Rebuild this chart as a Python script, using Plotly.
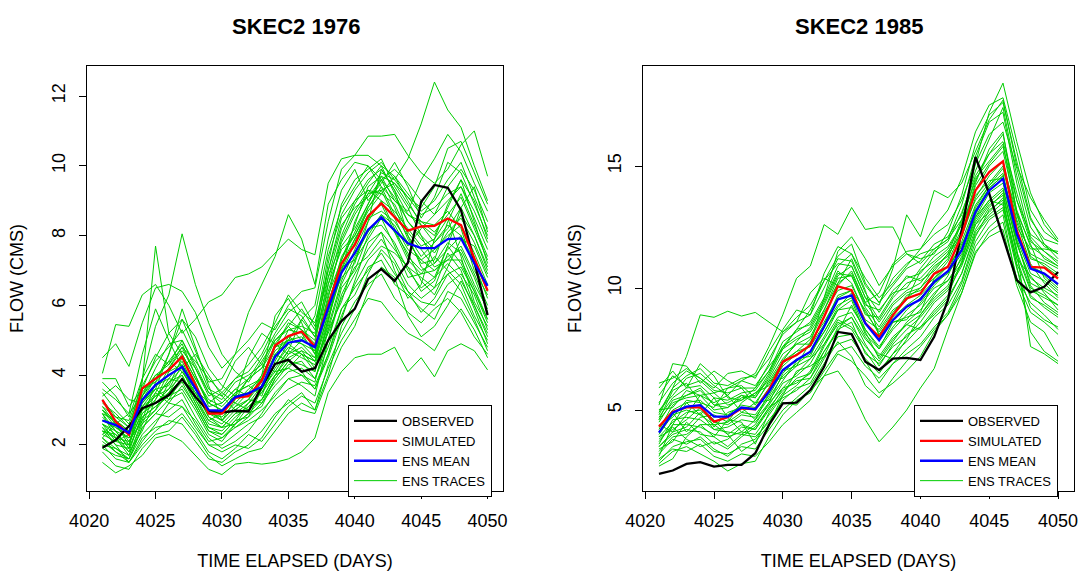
import plotly.graph_objects as go

days = list(range(4021, 4051))

# ---------------- SKEC2 1976 ----------------
obs_1976 = [1.92, 2.14, 2.54, 3.05, 3.20, 3.43, 3.89, 3.38, 2.96, 2.93, 2.98, 2.96, 3.67, 4.32, 4.44,
            4.10, 4.20, 5.00, 5.55, 5.90, 6.75, 7.04, 6.70, 7.22, 8.97, 9.45, 9.37, 8.73, 7.25, 5.72]
sim_1976 = [3.29, 2.67, 2.29, 3.62, 3.90, 4.15, 4.53, 3.70, 2.90, 2.90, 3.35, 3.40, 3.85, 4.85, 5.12,
            5.25, 4.82, 6.00, 7.20, 7.73, 8.55, 8.92, 8.54, 8.14, 8.26, 8.28, 8.49, 8.30, 7.35, 6.42]
mean_1976 = [2.70, 2.57, 2.35, 3.29, 3.72, 4.00, 4.24, 3.62, 3.00, 2.98, 3.37, 3.48, 3.67, 4.53, 4.93,
             5.00, 4.80, 5.92, 6.94, 7.50, 8.16, 8.52, 8.16, 7.78, 7.64, 7.64, 7.90, 7.92, 7.20, 6.56]
ens_1976 = [
    [2.4, 2.0, 1.9, 3.8, 7.7, 5.2, 4.6, 3.9, 3.2, 3.0, 3.4, 3.9, 4.2, 4.8, 5.5, 5.3, 4.9, 6.8, 8.2, 9.0, 9.6, 9.9, 9.3, 8.6, 8.3, 8.0, 8.8, 9.6, 8.4, 7.2],
    [3.0, 2.6, 2.4, 3.9, 5.4, 6.3, 8.05, 6.6, 5.5, 4.6, 4.1, 3.8, 4.4, 5.0, 5.4, 5.9, 5.3, 7.4, 8.6, 9.3, 9.8, 10.1, 9.6, 9.1, 8.6, 8.8, 9.2, 9.4, 8.5, 7.6],
    [4.5, 4.9, 4.25, 5.5, 6.5, 6.6, 6.4, 5.8, 4.8, 4.2, 4.6, 5.0, 5.5, 5.3, 6.0, 6.4, 6.5, 8.4, 9.9, 10.3, 10.3, 10.0, 9.2, 8.4, 8.0, 7.2, 7.6, 8.0, 7.3, 6.4],
    [4.05, 5.45, 5.4, 6.3, 6.6, 6.0, 5.2, 5.6, 6.1, 6.3, 6.8, 6.9, 7.1, 7.5, 7.9, 7.6, 7.45, 9.5, 10.2, 10.3, 10.85, 10.85, 10.9, 10.3, 9.8, 9.5, 9.9, 10.6, 11.0, 9.7],
    [3.9, 3.9, 3.1, 3.6, 4.5, 5.2, 5.6, 4.7, 3.8, 3.9, 4.6, 5.8, 6.6, 7.4, 8.6, 7.9, 6.6, 8.9, 9.6, 10.1, 10.0, 9.4, 9.0, 8.7, 9.6, 10.2, 10.9, 10.4, 9.5, 8.7],
    [2.2, 1.9, 1.7, 2.6, 3.0, 3.5, 3.9, 3.2, 2.5, 2.4, 2.8, 3.1, 3.3, 4.0, 4.6, 4.8, 4.4, 5.6, 7.0, 8.4, 9.2, 9.8, 9.6, 10.2, 11.2, 12.4, 11.6, 11.1, 10.0, 9.0],
    [1.5, 1.2, 1.4, 1.7, 2.2, 2.3, 2.1, 1.7, 1.3, 1.15, 1.45, 1.5, 1.45, 1.5, 1.6, 1.8, 2.2, 3.5, 4.1, 4.5, 4.6, 4.6, 4.8, 4.1, 4.5, 3.95, 4.7, 4.9, 4.7, 4.15],
    [2.0, 1.6, 1.5, 2.2, 2.5, 2.6, 2.9, 2.4, 1.8, 1.6, 1.9, 2.3, 2.1, 2.6, 3.1, 3.4, 3.2, 4.2, 5.0, 5.6, 6.2, 6.1, 5.6, 5.2, 5.0, 4.7, 5.4, 5.9, 5.3, 4.5],
    [2.6, 2.3, 2.0, 3.0, 3.4, 3.8, 4.2, 3.3, 2.6, 2.5, 2.9, 3.2, 3.5, 4.2, 4.7, 4.5, 4.3, 5.4, 6.7, 7.6, 8.4, 9.0, 8.2, 7.4, 7.0, 7.2, 7.8, 7.5, 6.6, 5.9],
    [3.2, 2.9, 2.5, 3.4, 3.9, 4.4, 4.9, 4.0, 3.1, 3.2, 3.6, 3.4, 3.9, 4.7, 5.0, 5.6, 5.1, 6.4, 7.7, 8.2, 8.9, 9.6, 9.1, 8.4, 7.9, 7.5, 8.1, 8.5, 7.8, 6.9],
    [2.3, 2.1, 2.3, 3.1, 3.6, 3.7, 4.5, 3.8, 2.9, 2.7, 3.1, 3.5, 3.6, 4.1, 4.2, 4.6, 4.4, 5.2, 6.2, 6.9, 7.6, 8.1, 7.6, 7.1, 6.8, 6.5, 6.9, 7.1, 6.4, 5.6],
    [2.8, 2.4, 1.9, 2.8, 3.1, 3.4, 3.6, 3.0, 2.3, 2.1, 2.6, 2.9, 3.1, 3.9, 4.4, 4.3, 4.1, 5.6, 6.9, 7.8, 8.8, 9.4, 8.6, 8.0, 7.4, 7.8, 8.3, 8.0, 7.2, 6.2],
    [2.5, 2.2, 1.8, 2.4, 3.3, 4.1, 4.3, 3.4, 2.7, 2.9, 3.5, 3.7, 3.4, 4.4, 5.1, 4.9, 4.5, 6.0, 7.4, 8.0, 8.7, 9.2, 8.9, 8.1, 7.6, 7.1, 7.3, 7.7, 6.9, 6.0],
    [3.5, 3.0, 2.6, 3.6, 3.8, 4.2, 4.7, 4.2, 3.5, 3.3, 3.8, 4.0, 4.3, 5.1, 5.6, 5.3, 5.0, 7.2, 8.9, 9.6, 9.9, 10.2, 9.4, 8.8, 8.0, 7.6, 7.9, 8.6, 8.0, 7.1],
    [1.9, 1.7, 1.6, 2.3, 2.7, 3.0, 3.3, 2.6, 2.0, 2.0, 2.3, 2.6, 2.8, 3.3, 3.6, 3.8, 3.7, 4.6, 5.9, 6.5, 7.0, 7.5, 6.9, 6.4, 6.1, 6.0, 6.6, 6.9, 6.3, 5.3],
    [2.7, 2.5, 2.2, 3.3, 3.9, 4.4, 4.1, 3.5, 2.8, 2.6, 3.0, 3.3, 3.8, 4.6, 5.0, 5.1, 4.7, 6.3, 7.3, 8.3, 9.4, 9.7, 9.5, 8.9, 8.4, 8.1, 8.6, 9.1, 8.2, 7.3],
    [3.1, 2.6, 2.1, 2.9, 3.3, 3.9, 3.8, 3.6, 3.2, 3.5, 3.2, 3.0, 3.6, 4.3, 4.8, 4.6, 4.4, 5.8, 7.1, 7.3, 7.9, 8.5, 7.7, 6.8, 6.9, 7.4, 7.0, 6.6, 5.7, 5.0],
    [2.1, 1.8, 1.5, 2.0, 2.4, 2.7, 2.6, 2.1, 1.6, 1.5, 1.8, 2.0, 2.4, 2.9, 3.2, 3.5, 3.0, 4.0, 5.4, 6.1, 6.6, 6.9, 6.2, 5.8, 5.5, 5.9, 6.2, 5.8, 5.1, 4.6],
    [3.3, 2.8, 2.7, 3.7, 4.4, 4.8, 5.3, 4.5, 3.6, 3.4, 3.9, 4.3, 4.8, 5.5, 6.3, 5.8, 5.5, 7.0, 8.3, 8.8, 9.1, 9.6, 9.9, 9.5, 9.0, 8.6, 9.0, 9.4, 8.7, 7.8],
    [2.9, 2.4, 2.2, 2.6, 3.5, 3.2, 3.7, 3.1, 2.4, 2.3, 2.7, 2.8, 3.2, 3.7, 4.1, 4.2, 3.9, 5.0, 6.3, 7.1, 7.4, 7.9, 7.3, 6.6, 6.2, 6.5, 7.5, 7.0, 6.0, 5.2],
    [2.4, 2.3, 1.8, 2.9, 3.2, 3.6, 4.0, 3.3, 2.7, 2.5, 2.9, 3.0, 3.3, 3.8, 4.3, 4.4, 3.9, 4.8, 5.9, 6.3, 7.1, 7.3, 6.6, 6.3, 5.9, 5.6, 6.4, 6.2, 5.5, 4.8],
    [2.6, 2.1, 2.0, 3.2, 3.7, 3.9, 4.4, 3.6, 2.9, 2.8, 3.2, 3.6, 3.9, 4.5, 5.3, 5.2, 4.6, 6.6, 8.0, 8.9, 9.5, 10.0, 9.7, 9.2, 8.7, 9.0, 9.6, 10.1, 9.1, 8.2],
    [3.0, 2.7, 2.4, 3.5, 4.0, 4.1, 4.6, 3.9, 3.3, 3.1, 3.5, 3.7, 3.9, 4.9, 5.4, 5.0, 4.8, 6.1, 7.2, 7.9, 8.5, 8.7, 8.4, 7.8, 7.3, 7.0, 7.4, 7.6, 6.8, 5.8],
    [2.2, 2.6, 2.9, 3.4, 4.2, 4.9, 5.0, 4.2, 3.4, 3.6, 4.4, 4.8, 4.3, 4.1, 4.7, 5.6, 6.0, 7.9, 9.3, 9.9, 9.0, 9.5, 10.1, 9.4, 8.5, 9.1, 10.1, 9.8, 8.9, 8.0],
    [3.6, 3.3, 2.9, 4.6, 5.9, 5.0, 4.2, 4.6, 4.0, 3.4, 3.0, 3.3, 4.0, 5.7, 6.2, 5.5, 4.6, 5.9, 6.8, 7.2, 8.4, 9.9, 9.3, 8.0, 7.1, 6.8, 7.7, 8.8, 9.4, 8.1],
    [2.9, 2.2, 1.7, 2.7, 3.8, 4.6, 5.9, 4.8, 3.7, 2.7, 2.5, 2.8, 3.6, 4.6, 4.4, 4.1, 3.6, 4.5, 5.6, 6.7, 7.8, 8.1, 7.0, 6.2, 6.6, 7.9, 8.5, 7.4, 6.1, 5.4],
    [2.0, 1.9, 1.6, 2.5, 2.9, 3.3, 3.5, 2.8, 2.2, 1.9, 2.1, 2.4, 2.9, 3.5, 3.9, 3.7, 3.4, 5.0, 6.5, 7.0, 8.0, 8.6, 8.1, 7.5, 6.7, 6.3, 7.1, 7.9, 7.7, 6.8],
    [3.4, 3.7, 3.3, 3.2, 3.6, 4.6, 5.6, 5.1, 4.2, 3.7, 3.4, 4.5, 5.2, 4.9, 4.6, 5.0, 5.7, 7.6, 8.8, 9.4, 10.0, 9.6, 8.8, 7.9, 7.2, 7.3, 8.4, 9.2, 8.3, 7.4],
    [2.5, 2.0, 1.5, 2.1, 2.6, 3.2, 3.1, 2.5, 2.0, 1.8, 2.0, 1.9, 2.2, 2.8, 3.3, 3.0, 2.9, 3.9, 4.8, 5.4, 6.4, 7.1, 6.8, 5.7, 5.1, 5.4, 6.0, 6.7, 6.0, 5.1],
    [3.0, 2.5, 2.3, 3.3, 3.6, 3.3, 3.9, 3.5, 3.0, 2.7, 3.3, 3.9, 4.5, 5.2, 5.8, 6.1, 5.4, 6.8, 7.8, 8.6, 9.2, 9.3, 8.5, 7.7, 8.2, 8.6, 9.4, 9.9, 9.3, 8.4],
    [2.3, 2.7, 2.4, 3.0, 3.2, 3.5, 4.1, 3.6, 2.8, 2.5, 2.6, 3.1, 3.5, 4.0, 4.5, 4.7, 4.2, 5.3, 6.1, 7.3, 8.2, 8.3, 7.8, 7.0, 6.5, 6.8, 7.2, 6.8, 5.9, 4.9],
    [1.8, 1.4, 1.3, 1.9, 2.3, 2.4, 2.8, 2.3, 1.7, 1.4, 1.6, 1.8, 1.9, 2.4, 2.9, 3.2, 3.0, 4.3, 5.2, 5.9, 6.9, 7.6, 7.2, 6.4, 5.8, 6.2, 6.9, 6.4, 5.6, 4.7],
    [2.7, 2.6, 2.0, 3.4, 4.0, 4.3, 5.0, 4.3, 3.5, 3.2, 3.6, 3.9, 4.2, 5.0, 5.3, 5.4, 5.2, 7.0, 8.5, 9.0, 9.3, 9.0, 8.7, 8.2, 7.7, 7.9, 8.9, 9.6, 9.0, 7.9],
    [3.1, 2.8, 2.5, 3.1, 3.4, 3.6, 4.3, 3.7, 3.0, 2.7, 3.1, 3.3, 3.2, 3.9, 4.4, 4.7, 4.5, 5.7, 7.0, 7.9, 8.6, 8.9, 8.1, 7.3, 6.9, 7.0, 7.3, 7.3, 6.5, 5.6],
    [2.4, 2.2, 2.1, 2.7, 3.0, 3.8, 4.0, 3.2, 2.5, 2.3, 2.7, 3.2, 3.7, 4.3, 4.9, 4.6, 4.1, 5.5, 7.3, 8.1, 8.9, 9.7, 9.0, 8.6, 8.4, 8.3, 8.7, 8.2, 7.0, 6.3],
    [3.8, 3.4, 2.8, 3.9, 4.6, 4.3, 4.8, 4.4, 3.9, 3.5, 3.9, 4.1, 4.6, 5.4, 5.9, 5.7, 5.1, 6.6, 7.6, 8.0, 8.8, 9.3, 9.5, 9.1, 8.8, 9.4, 10.5, 10.7, 9.8, 8.9],
    [2.2, 1.8, 1.6, 2.5, 2.9, 2.8, 3.1, 2.7, 2.1, 2.2, 2.5, 2.7, 3.0, 3.4, 3.9, 4.0, 3.6, 4.6, 5.7, 6.6, 7.3, 7.7, 7.5, 7.1, 6.4, 6.7, 7.7, 7.2, 6.4, 5.5],
    [2.9, 2.7, 2.3, 3.0, 3.5, 4.2, 4.8, 4.0, 3.2, 3.0, 3.4, 3.5, 4.0, 4.8, 5.0, 4.9, 4.7, 6.2, 7.9, 8.7, 9.3, 9.2, 9.7, 9.0, 8.3, 7.8, 8.2, 8.8, 8.0, 7.0],
    [2.6, 2.4, 1.9, 2.8, 3.1, 3.4, 3.8, 3.1, 2.4, 2.2, 2.6, 2.9, 3.3, 4.0, 4.2, 4.0, 3.8, 5.3, 6.6, 7.4, 8.1, 8.6, 8.3, 7.6, 7.3, 7.6, 8.0, 8.3, 7.5, 6.6],
]

# ---------------- SKEC2 1985 ----------------
obs_1985 = [2.38, 2.52, 2.79, 2.86, 2.68, 2.75, 2.75, 3.23, 4.39, 5.27, 5.30, 5.82, 6.77, 8.20, 8.11,
            6.98, 6.64, 7.11, 7.14, 7.05, 8.00, 9.50, 12.37, 15.37, 13.87, 12.09, 10.32, 9.82, 10.05, 10.66]
sim_1985 = [4.32, 4.93, 5.11, 5.11, 4.52, 4.70, 5.07, 5.03, 5.82, 6.98, 7.25, 7.66, 8.82, 10.07, 9.91,
            8.55, 8.00, 8.89, 9.57, 9.77, 10.59, 10.87, 12.16, 14.00, 14.75, 15.19, 12.37, 10.87, 10.84, 10.39]
mean_1985 = [4.07, 4.89, 5.14, 5.20, 4.73, 4.73, 5.10, 5.03, 5.75, 6.64, 7.05, 7.39, 8.41, 9.53, 9.70,
             8.55, 7.86, 8.68, 9.23, 9.53, 10.25, 10.69, 11.55, 13.12, 14.00, 14.48, 12.23, 10.80, 10.59, 10.16]
ens_1985 = [
    [4.8, 5.9, 7.2, 8.9, 8.8, 9.05, 8.85, 9.0, 8.6, 8.2, 8.8, 9.3, 10.3, 11.3, 11.8, 10.2, 9.4, 10.4, 11.0, 11.4, 11.6, 12.0, 13.4, 15.4, 16.8, 17.2, 14.3, 12.1, 11.5, 11.0],
    [5.0, 5.6, 6.3, 6.5, 6.0, 5.6, 6.2, 6.5, 7.6, 8.9, 10.4, 10.9, 12.6, 12.2, 13.3, 12.4, 12.5, 12.5, 11.4, 11.0, 11.6, 12.0, 12.8, 14.4, 15.5, 16.3, 13.6, 12.2, 11.8, 11.2],
    [4.2, 5.2, 5.6, 5.8, 5.2, 5.1, 5.5, 5.6, 6.5, 7.6, 8.3, 9.1, 10.3, 11.0, 10.9, 9.6, 9.3, 10.8, 13.0, 12.1, 14.0, 13.7, 14.3, 15.6, 16.9, 17.7, 15.0, 13.7, 12.8, 12.0],
    [3.2, 3.8, 3.6, 3.9, 3.4, 3.1, 3.6, 3.8, 4.6, 5.3, 5.2, 5.8, 6.4, 6.6, 5.8, 4.6, 3.7, 4.3, 5.0, 5.9, 6.7, 8.3, 9.8, 11.4, 12.3, 12.7, 10.4, 9.4, 8.9, 8.3],
    [3.5, 4.0, 4.2, 4.1, 3.6, 3.8, 4.3, 4.2, 5.0, 5.9, 6.1, 6.5, 7.6, 8.6, 8.3, 7.4, 6.6, 7.3, 7.8, 8.4, 9.1, 9.7, 11.1, 13.0, 14.1, 14.6, 11.9, 10.2, 9.9, 9.5],
    [5.6, 6.4, 6.0, 6.2, 5.7, 5.9, 6.2, 6.0, 6.8, 7.5, 7.9, 8.2, 9.1, 10.2, 10.6, 9.4, 8.6, 9.4, 9.9, 10.2, 10.9, 11.3, 12.4, 14.3, 15.7, 16.4, 13.1, 11.2, 11.0, 10.6],
    [2.8, 3.3, 3.5, 3.2, 2.9, 2.5, 2.8, 2.9, 3.9, 4.8, 5.4, 5.7, 6.6, 7.4, 7.6, 6.8, 6.3, 6.9, 7.5, 8.0, 8.8, 9.3, 10.3, 12.1, 13.2, 13.6, 10.9, 8.2, 7.4, 7.0],
    [3.9, 4.5, 4.9, 5.0, 4.5, 4.4, 4.8, 4.7, 5.5, 6.4, 6.9, 7.3, 8.2, 9.1, 9.5, 8.1, 7.5, 8.3, 8.9, 9.3, 10.0, 10.3, 11.0, 12.6, 13.4, 13.8, 11.6, 7.6, 7.3, 6.9],
    [4.5, 5.4, 5.6, 5.9, 5.2, 5.3, 5.6, 5.5, 6.3, 7.3, 7.7, 8.0, 9.1, 10.4, 10.5, 9.2, 8.4, 9.3, 9.8, 10.0, 10.8, 11.4, 12.1, 13.7, 14.6, 15.2, 12.8, 11.4, 11.1, 10.8],
    [3.6, 4.6, 4.7, 4.6, 4.2, 4.3, 4.6, 4.5, 5.2, 6.1, 6.4, 6.9, 7.9, 8.8, 9.0, 8.0, 7.2, 8.0, 8.5, 8.9, 9.6, 10.1, 11.3, 12.8, 13.6, 14.1, 11.8, 10.4, 10.0, 9.7],
    [4.9, 5.9, 6.4, 6.7, 6.1, 6.0, 6.3, 6.4, 7.1, 8.1, 8.6, 8.9, 10.0, 11.2, 11.1, 9.8, 9.0, 9.9, 10.4, 10.6, 11.3, 11.7, 12.6, 14.0, 15.0, 15.6, 13.2, 11.7, 11.3, 10.9],
    [3.9, 4.2, 4.6, 5.1, 4.6, 4.0, 4.4, 4.2, 5.1, 5.8, 6.2, 6.3, 7.4, 8.3, 8.6, 7.3, 6.9, 7.6, 8.0, 8.6, 9.4, 9.9, 10.9, 12.4, 13.3, 13.9, 11.4, 9.9, 9.6, 9.3],
    [4.3, 5.0, 5.3, 5.4, 4.9, 4.8, 5.2, 5.1, 5.9, 6.8, 7.3, 7.6, 8.5, 9.7, 9.9, 8.6, 7.9, 8.8, 9.3, 9.7, 10.3, 10.9, 11.6, 13.2, 14.1, 14.6, 12.3, 10.9, 10.6, 10.1],
    [4.6, 5.3, 5.5, 5.6, 5.0, 5.1, 5.6, 5.3, 6.1, 7.0, 7.4, 7.9, 9.0, 9.9, 10.1, 9.0, 8.2, 9.0, 9.6, 10.0, 10.6, 11.2, 12.7, 15.1, 17.2, 18.4, 16.0, 13.9, 12.6, 11.9],
    [3.3, 3.9, 4.0, 4.4, 3.9, 3.5, 4.0, 3.9, 4.5, 5.4, 5.9, 6.1, 7.1, 8.0, 8.1, 7.0, 6.1, 6.9, 7.3, 7.7, 8.4, 9.0, 10.2, 11.9, 12.8, 13.2, 10.8, 9.2, 8.7, 8.4],
    [5.3, 6.1, 6.6, 6.3, 5.8, 5.7, 5.9, 5.9, 6.6, 7.8, 8.2, 8.6, 9.6, 10.9, 11.4, 10.1, 9.4, 10.1, 10.8, 11.1, 11.8, 12.1, 13.0, 14.8, 16.1, 17.4, 14.6, 12.5, 11.7, 11.4],
    [4.0, 4.8, 5.0, 4.8, 4.4, 4.5, 4.9, 4.8, 5.6, 6.6, 6.8, 7.1, 8.0, 9.1, 9.2, 8.3, 7.6, 8.4, 9.1, 9.6, 10.2, 10.6, 11.4, 12.9, 13.9, 14.3, 12.0, 10.6, 10.3, 9.8],
    [2.9, 3.5, 3.7, 3.8, 3.3, 3.2, 3.5, 3.4, 4.2, 5.0, 5.5, 6.0, 6.9, 7.8, 7.2, 6.0, 5.5, 6.3, 7.0, 7.6, 8.3, 8.9, 10.0, 11.7, 12.5, 13.0, 10.3, 9.0, 8.6, 8.1],
    [4.7, 5.5, 5.9, 6.0, 5.5, 5.4, 5.7, 5.8, 6.6, 7.6, 8.0, 8.3, 9.3, 10.5, 10.9, 9.6, 8.7, 9.6, 10.2, 10.4, 11.0, 11.5, 12.2, 14.2, 15.1, 15.8, 13.6, 11.9, 11.5, 11.1],
    [3.7, 4.4, 4.4, 4.3, 4.0, 3.9, 4.1, 4.0, 4.8, 5.6, 6.0, 6.6, 7.7, 8.5, 8.8, 7.7, 6.8, 7.7, 8.3, 8.8, 9.5, 10.0, 11.0, 12.6, 13.1, 13.7, 11.5, 10.0, 9.7, 9.3],
    [5.9, 6.6, 5.9, 6.9, 6.4, 5.5, 5.4, 5.9, 6.9, 8.2, 8.6, 9.8, 10.4, 10.1, 10.7, 9.4, 9.8, 11.0, 11.5, 11.6, 12.5, 13.2, 14.5, 16.4, 17.5, 17.8, 15.6, 13.2, 12.3, 11.9],
    [3.1, 4.4, 5.3, 4.8, 5.5, 4.7, 4.1, 4.6, 5.7, 6.9, 7.4, 7.6, 8.8, 10.2, 11.2, 9.9, 8.0, 8.6, 8.8, 9.0, 10.4, 11.1, 12.3, 13.6, 14.3, 15.0, 13.1, 11.8, 10.4, 9.9],
    [4.4, 4.1, 4.8, 5.6, 5.3, 5.6, 4.9, 5.3, 5.4, 6.2, 7.0, 7.4, 8.2, 9.2, 9.8, 8.7, 8.3, 9.1, 9.5, 10.7, 11.1, 11.6, 12.6, 13.8, 14.4, 14.5, 12.5, 11.6, 11.6, 11.5],
    [2.7, 3.0, 3.9, 4.4, 4.4, 4.0, 3.3, 3.7, 4.4, 5.6, 6.6, 6.8, 7.2, 8.4, 8.8, 7.9, 7.3, 7.1, 7.9, 8.9, 9.7, 10.5, 11.8, 12.9, 13.6, 13.4, 11.2, 10.5, 9.8, 9.1],
    [5.2, 6.9, 6.8, 6.1, 6.6, 6.2, 5.9, 5.2, 6.2, 7.1, 7.7, 7.7, 9.6, 11.5, 12.1, 11.2, 10.1, 10.9, 11.4, 11.2, 11.4, 12.3, 13.8, 15.9, 17.1, 17.6, 15.2, 12.9, 11.8, 11.4],
    [4.1, 4.9, 4.1, 4.7, 4.8, 4.5, 5.3, 5.7, 6.2, 6.3, 6.8, 7.8, 8.6, 9.6, 9.9, 9.1, 8.1, 8.9, 9.7, 9.9, 10.4, 10.9, 11.7, 13.3, 14.2, 14.9, 12.7, 11.0, 10.2, 9.6],
    [3.4, 3.7, 4.5, 4.0, 3.9, 4.6, 4.5, 3.6, 4.9, 5.7, 6.3, 6.5, 7.4, 8.2, 9.3, 8.2, 7.1, 7.9, 8.5, 8.3, 9.0, 9.6, 10.6, 12.2, 12.9, 13.3, 11.0, 9.7, 9.2, 8.8],
    [6.1, 6.3, 6.7, 6.3, 5.9, 6.5, 6.6, 6.3, 7.4, 8.3, 9.1, 8.9, 10.6, 11.7, 11.4, 10.4, 9.6, 10.2, 10.9, 11.6, 12.2, 12.6, 13.6, 15.1, 16.3, 16.8, 14.9, 12.8, 12.0, 11.8],
    [3.0, 3.4, 3.3, 3.6, 3.1, 2.9, 3.2, 3.1, 3.7, 4.4, 4.9, 5.4, 6.4, 7.3, 7.0, 6.4, 5.7, 6.1, 6.6, 7.2, 8.2, 8.9, 9.8, 11.5, 12.1, 12.4, 10.1, 8.6, 8.2, 7.2],
    [4.6, 5.8, 6.1, 5.3, 5.1, 5.9, 6.0, 5.5, 6.4, 7.5, 8.3, 8.5, 9.5, 10.7, 10.2, 8.9, 8.8, 9.7, 10.5, 10.3, 10.7, 11.4, 12.8, 14.5, 15.2, 15.9, 13.0, 11.3, 10.9, 10.5],
    [4.3, 4.7, 5.4, 5.3, 4.3, 4.9, 5.1, 4.6, 5.3, 6.5, 7.1, 7.2, 8.4, 9.3, 9.6, 8.3, 7.5, 8.6, 8.7, 9.4, 10.1, 10.7, 11.9, 13.4, 14.2, 14.7, 12.1, 10.9, 10.5, 10.0],
    [3.8, 4.3, 3.8, 3.5, 3.7, 3.4, 3.9, 4.3, 5.1, 5.5, 5.8, 6.3, 7.2, 7.7, 7.9, 7.1, 6.5, 7.3, 8.1, 8.4, 8.9, 9.5, 10.6, 12.3, 13.0, 13.5, 11.2, 9.6, 9.3, 8.9],
    [5.0, 5.1, 5.8, 5.6, 5.7, 5.2, 5.4, 5.7, 6.0, 7.0, 7.8, 8.4, 9.4, 10.6, 10.5, 9.3, 9.1, 9.8, 10.0, 10.8, 11.5, 11.9, 13.1, 14.6, 15.5, 16.0, 13.9, 12.0, 11.2, 10.9],
    [3.5, 4.1, 4.3, 4.9, 4.2, 4.1, 4.0, 4.4, 5.3, 5.9, 6.5, 7.1, 7.7, 8.7, 8.4, 7.6, 7.0, 7.8, 8.6, 9.1, 9.8, 10.3, 11.2, 12.7, 13.5, 14.0, 11.9, 10.1, 9.4, 9.0],
]

panel_titles = ["SKEC2 1976", "SKEC2 1985"]
x_ticks = [4020, 4025, 4030, 4035, 4040, 4045, 4050]
y_ticks_1976 = [2, 4, 6, 8, 10, 12]
y_ticks_1985 = [5, 10, 15]

FONT = "Liberation Sans, Arial, Helvetica, sans-serif"
GREEN = "#00CD00"

fig = go.Figure()

panels = [
    ("x", "y", "legend", obs_1976, sim_1976, mean_1976, ens_1976),
    ("x2", "y2", "legend2", obs_1985, sim_1985, mean_1985, ens_1985),
]
for xa, ya, lg, obs, sim, mean, ens in panels:
    for i, tr in enumerate(ens):
        fig.add_trace(go.Scatter(x=days, y=tr, mode="lines", xaxis=xa, yaxis=ya,
                                 line=dict(color=GREEN, width=1), name="ENS TRACES",
                                 legend=lg, legendrank=4, showlegend=(i == 0)))
    fig.add_trace(go.Scatter(x=days, y=obs, mode="lines", xaxis=xa, yaxis=ya,
                             line=dict(color="black", width=2.3), name="OBSERVED",
                             legend=lg, legendrank=1))
    fig.add_trace(go.Scatter(x=days, y=sim, mode="lines", xaxis=xa, yaxis=ya,
                             line=dict(color="red", width=2.3), name="SIMULATED",
                             legend=lg, legendrank=2))
    fig.add_trace(go.Scatter(x=days, y=mean, mode="lines", xaxis=xa, yaxis=ya,
                             line=dict(color="blue", width=2.3), name="ENS MEAN",
                             legend=lg, legendrank=3))

W, H = 1081, 572
def px_x(v):
    return v / W
def px_y(v):
    return 1 - v / H

axis_common = dict(showline=True, linecolor="black", linewidth=1, mirror=True,
                   ticks="outside", ticklen=7, tickcolor="black", tickwidth=1,
                   showgrid=False, zeroline=False, automargin=False,
                   tickfont=dict(family=FONT, size=18, color="black"),
                   title_font=dict(family=FONT, size=18, color="black"))

xr = [4021 - 0.04 * 29, 4050 + 0.04 * 29]

legend_common = dict(bgcolor="white", bordercolor="black", borderwidth=1,
                     font=dict(family=FONT, size=13, color="black"),
                     xanchor="left", yanchor="top", traceorder="normal",
                     itemwidth=43, tracegroupgap=0)

fig.update_layout(
    width=W, height=H,
    margin=dict(l=0, r=0, t=0, b=0),
    paper_bgcolor="white", plot_bgcolor="white",
    xaxis=dict(domain=[px_x(87), px_x(503)], range=xr, tickvals=x_ticks, ticklabelstandoff=6,
               title=dict(text="TIME ELAPSED (DAYS)", standoff=24), anchor="y", **axis_common),
    yaxis=dict(domain=[px_y(491), px_y(66)], range=[0.68, 12.86], tickvals=y_ticks_1976,
               tickangle=-90, ticklabelstandoff=7,
               title=dict(text="FLOW (CMS)", standoff=20), anchor="x", **axis_common),
    xaxis2=dict(domain=[px_x(643), px_x(1074)], range=xr, tickvals=x_ticks, ticklabelstandoff=6,
                title=dict(text="TIME ELAPSED (DAYS)", standoff=24), anchor="y2", **axis_common),
    yaxis2=dict(domain=[px_y(491), px_y(66)], range=[1.68, 19.1], tickvals=y_ticks_1985,
                tickangle=-90, ticklabelstandoff=7,
                title=dict(text="FLOW (CMS)", standoff=18), anchor="x2", **axis_common),
    legend=dict(x=px_x(348), y=px_y(405), **legend_common),
    legend2=dict(x=px_x(914), y=px_y(405), **legend_common),
    annotations=[
        dict(text="<b>%s</b>" % panel_titles[0], x=px_x(296), y=px_y(27), xref="paper", yref="paper",
             showarrow=False, font=dict(family=FONT, size=22, color="black"), xanchor="center", yanchor="middle"),
        dict(text="<b>%s</b>" % panel_titles[1], x=px_x(859), y=px_y(27), xref="paper", yref="paper",
             showarrow=False, font=dict(family=FONT, size=22, color="black"), xanchor="center", yanchor="middle"),
    ],
    showlegend=True,
)

fig.write_html("out.html", config={"displayModeBar": False},
               post_script="document.body.style.margin='0';document.body.style.overflow='hidden';")
